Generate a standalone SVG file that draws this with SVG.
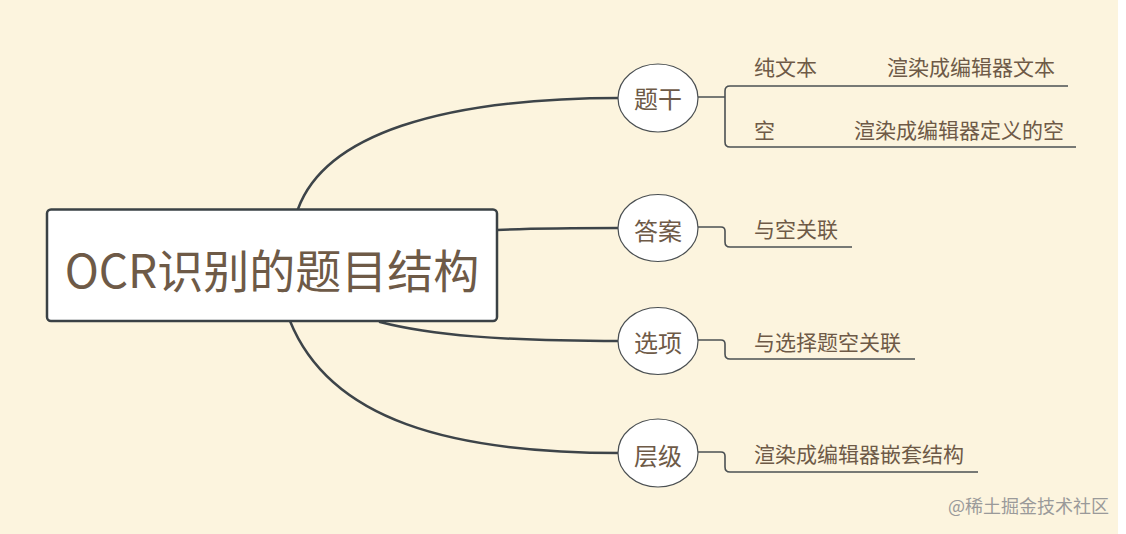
<svg xmlns="http://www.w3.org/2000/svg" width="1126" height="534" viewBox="0 0 1126 534">
<style>
.branch{fill:none;stroke:#3d4449;stroke-width:2.5;stroke-linecap:round}
.sub{fill:none;stroke:#4b5053;stroke-width:1.6}
.circ{fill:#ffffff;stroke:#4a4f52;stroke-width:1.2}
.t{font-family:"Noto Sans CJK SC","Noto Sans",sans-serif;fill:#6e5a47}
.node{font-size:24px;text-anchor:middle}
.leaf{font-size:21px}
</style>
<rect width="1126" height="534" fill="#fcf4de"/>
<rect x="1118" y="0" width="8" height="534" fill="#ffffff"/>
<g id="connectors">
<path class="branch" d="M298,209 C325,135 440,98 620,98"/>
<path class="branch" d="M497,230 C540,228 580,228 620,228"/>
<path class="branch" d="M380,322 C430,335 500,341 620,341"/>
<path class="branch" d="M290,321 C330,420 450,453 620,453"/>
<path class="sub" d="M698,97 H725 M725,97 V91 Q725,86 730,86 H1068 M725,97 V142 Q725,147 730,147 H1076"/>
<path class="sub" d="M698,227 H721 Q725,227 725,231 V242 Q725,247 730,247 H852"/>
<path class="sub" d="M698,340 H721 Q725,340 725,344 V354 Q725,359 730,359 H915"/>
<path class="sub" d="M698,452 H721 Q725,452 725,456 V467 Q725,472 730,472 H978"/>
</g>
<g id="root">
<rect x="47" y="209.5" width="450" height="111.5" rx="4" fill="#ffffff" stroke="#3a4145" stroke-width="2.5"/>
<text class="t" x="272" y="288" font-size="46" text-anchor="middle">OCR识别的题目结构</text>
</g>
<g id="n-tigan">
<ellipse class="circ" cx="658" cy="98" rx="40" ry="34"/>
<text class="t node" x="658" y="108">题干</text>
</g>
<g id="n-daan">
<ellipse class="circ" cx="658" cy="228" rx="40" ry="33.5"/>
<text class="t node" x="658" y="240">答案</text>
</g>
<g id="n-xuanxiang">
<ellipse class="circ" cx="658" cy="341" rx="40" ry="33.5"/>
<text class="t node" x="658" y="352">选项</text>
</g>
<g id="n-cengji">
<ellipse class="circ" cx="658" cy="453" rx="40" ry="34"/>
<text class="t node" x="658" y="465">层级</text>
</g>
<g id="l-chunwenben"><text class="t leaf" x="754" y="75">纯文本</text></g>
<g id="l-xuanran1"><text class="t leaf" x="887" y="75">渲染成编辑器文本</text></g>
<g id="l-kong"><text class="t leaf" x="754" y="138">空</text></g>
<g id="l-xuanran2"><text class="t leaf" x="854" y="138">渲染成编辑器定义的空</text></g>
<g id="l-yukong"><text class="t leaf" x="754" y="237">与空关联</text></g>
<g id="l-yuxuanze"><text class="t leaf" x="754" y="350">与选择题空关联</text></g>
<g id="l-qiantao"><text class="t leaf" x="754" y="462">渲染成编辑器嵌套结构</text></g>
<text x="948" y="513" font-family="Noto Sans CJK SC,Noto Sans,sans-serif" font-size="18" fill="#9a9a9a">@稀土掘金技术社区</text>
</svg>
